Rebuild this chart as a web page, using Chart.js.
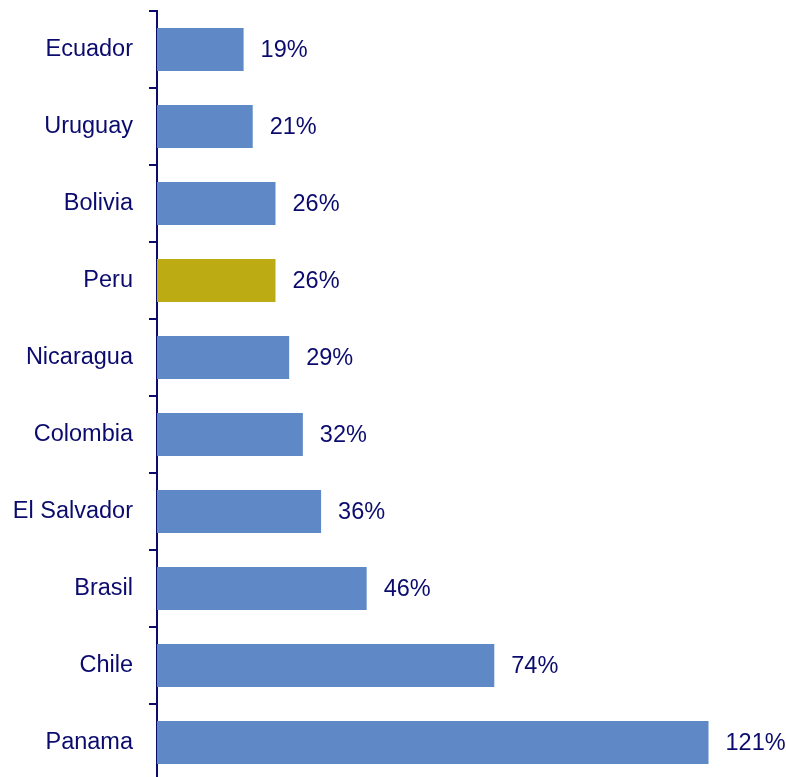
<!DOCTYPE html>
<html>
<head>
<meta charset="utf-8">
<script src="https://cdn.jsdelivr.net/npm/chart.js@4"></script>
<style>
  body { margin: 0; background: #ffffff; overflow: hidden; }
  /* a little taller than the window so the axis runs off the bottom edge */
  #wrap { width: 786px; height: 781px; position: relative; }
</style>
</head>
<body>
<div id="wrap"><canvas id="myChart"></canvas></div>
<script>
// Chart values
const countries = ['Ecuador', 'Uruguay', 'Bolivia', 'Peru', 'Nicaragua', 'Colombia', 'El Salvador', 'Brasil', 'Chile', 'Panama'];
const shares = [19, 21, 26, 26, 29, 32, 36, 46, 74, 121];
const highlighted = 'Peru';

const NAVY = '#0b0b6e';
const BLUE = '#5f89c6';
const OLIVE = '#bcab12';
const FONT = "'Liberation Sans', Arial, sans-serif";

// Draws the "19%" style labels at the end of each bar
const valueLabels = {
    id: 'valueLabels',
    afterDatasetsDraw(chart) {
        const ctx = chart.ctx;
        const meta = chart.getDatasetMeta(0);
        ctx.save();
        ctx.font = `23.5px ${FONT}`;
        ctx.fillStyle = NAVY;
        ctx.textAlign = 'left';
        ctx.textBaseline = 'middle';
        meta.data.forEach((bar, i) => {
            ctx.fillText(shares[i] + '%', bar.x + 17, bar.y + 1);
        });
        ctx.restore();
    }
};

class ChartManager {
    constructor() {
        this.myChart = null;
        this.draw();
    }

    draw() {
        const ctx = document.getElementById('myChart').getContext('2d');
        this.myChart = new Chart(ctx, {
            type: 'bar',
            data: {
                labels: countries,
                datasets: [{
                    data: shares,
                    backgroundColor: countries.map(c => c === highlighted ? OLIVE : BLUE),
                    borderWidth: 0,
                    categoryPercentage: 1,
                    barPercentage: 0.56
                }]
            },
            options: {
                indexAxis: 'y',
                responsive: true,
                maintainAspectRatio: false,
                animation: false,
                layout: { padding: { top: 11, right: 0, bottom: 0, left: 0 } },
                plugins: {
                    legend: { display: false },
                    tooltip: { enabled: false }
                },
                scales: {
                    x: {
                        display: false,
                        min: 0,
                        max: 138
                    },
                    y: {
                        afterFit: (scale) => {
                            scale.width = 157;
                            scale.paddingTop = 0;     // no room kept for half label heights
                            scale.paddingBottom = 0;
                        },
                        border: { display: true, color: NAVY, width: 2 },
                        grid: {
                            offset: true,
                            drawOnChartArea: false,
                            drawTicks: true,
                            tickLength: 8,
                            color: NAVY,
                            lineWidth: 2
                        },
                        ticks: {
                            color: NAVY,
                            padding: 16,
                            font: { family: FONT, size: 23.5 }
                        }
                    }
                }
            },
            plugins: [valueLabels]
        });
    }
}

new ChartManager();
</script>
</body>
</html>
